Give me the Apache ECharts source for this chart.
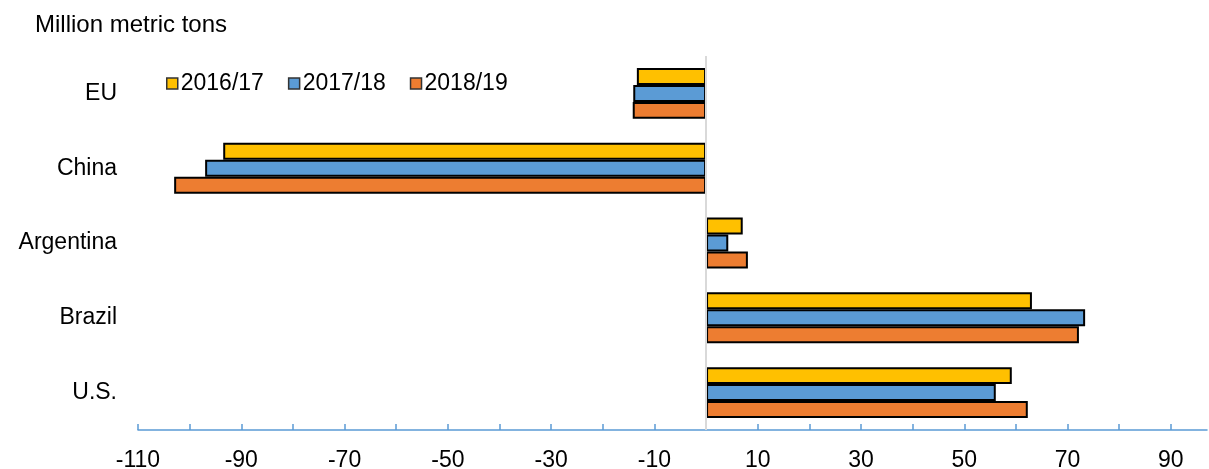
<!DOCTYPE html>
<html>
<head>
<meta charset="utf-8">
<script src="https://cdn.jsdelivr.net/npm/echarts@6/dist/echarts.min.js"></script>
<style>
  html, body { margin: 0; padding: 0; background: #fff; }
  #chart { width: 1209px; height: 469px; }
</style>
</head>
<body>
<div id="chart"></div>
<script>
// categories, top to bottom
var countries = ['EU', 'China', 'Argentina', 'Brazil', 'U.S.'];
var seriesNames = ['2016/17', '2017/18', '2018/19'];
// million metric tons
var y2016 = [-13.4, -93.5, 7.1, 63.1, 59.2];
var y2017 = [-14.1, -97.0, 4.3, 73.4, 56.1];
var y2018 = [-14.2, -103.0, 8.1, 72.2, 62.3];
var tickValues = [-110, -100, -90, -80, -70, -60, -50, -40, -30, -20, -10, 0, 10, 20, 30, 40, 50, 60, 70, 80, 90];
var labelValues = [-110, -90, -70, -50, -30, -10, 10, 30, 50, 70, 90];

var colors = ['#FFC000', '#5B9BD5', '#ED7D31'];
var font = 'Liberation Sans, Arial, sans-serif';

var myChart = echarts.init(document.getElementById('chart'));

function bar(name, data, i) {
    var s = {
        name: name,
        type: 'bar',
        data: data,
        barGap: '0%',
        barCategoryGap: '32%',
        itemStyle: {
            color: colors[i],
            borderColor: '#000',
            borderWidth: 2
        }
    };
    if (i === 0) {
        // grey line at zero
        s.markLine = {
            silent: true,
            symbol: ['none', 'none'],
            label: { show: false },
            lineStyle: { color: '#d9d9d9', width: 2, type: 'solid' },
            data: [{ xAxis: 0 }]
        };
    }
    return s;
}

var option = {
    animation: false,
    title: {
        text: 'Million metric tons',
        left: 35,
        top: 13,
        padding: 0,
        textStyle: { fontFamily: font, fontSize: 24, fontWeight: 'normal', color: '#000' }
    },
    legend: {
        data: seriesNames,
        left: 161,
        top: 67,
        icon: 'rect',
        itemWidth: 11,
        itemHeight: 11,
        itemGap: 24,
        itemStyle: { borderColor: '#333', borderWidth: 1.5 },
        textStyle: { fontFamily: font, fontSize: 23, color: '#000', padding: [0, 0, 0, -2] }
    },
    grid: {
        left: 138,
        right: 2,
        top: 56,
        bottom: 39,
        outerBoundsMode: 'none'
    },
    xAxis: {
        type: 'value',
        min: -110,
        max: 97,
        interval: 10,
        splitLine: { show: false },
        axisLine: { show: true, lineStyle: { color: '#5B9BD5', width: 1.5 } },
        axisTick: {
            show: true,
            inside: true,
            length: 6,
            customValues: tickValues,
            lineStyle: { color: '#5B9BD5', width: 1.5 }
        },
        axisLabel: {
            customValues: labelValues,
            margin: 19,
            fontFamily: font,
            fontSize: 23,
            color: '#000'
        }
    },
    yAxis: {
        type: 'category',
        inverse: true,
        data: countries,
        axisLine: { show: false, onZero: false },
        axisTick: { show: false },
        axisLabel: {
            margin: 21,
            fontFamily: font,
            fontSize: 23,
            color: '#000'
        }
    },
    series: [
        bar(seriesNames[0], y2016, 0),
        bar(seriesNames[1], y2017, 1),
        bar(seriesNames[2], y2018, 2)
    ]
};

myChart.setOption(option);
</script>
</body>
</html>
